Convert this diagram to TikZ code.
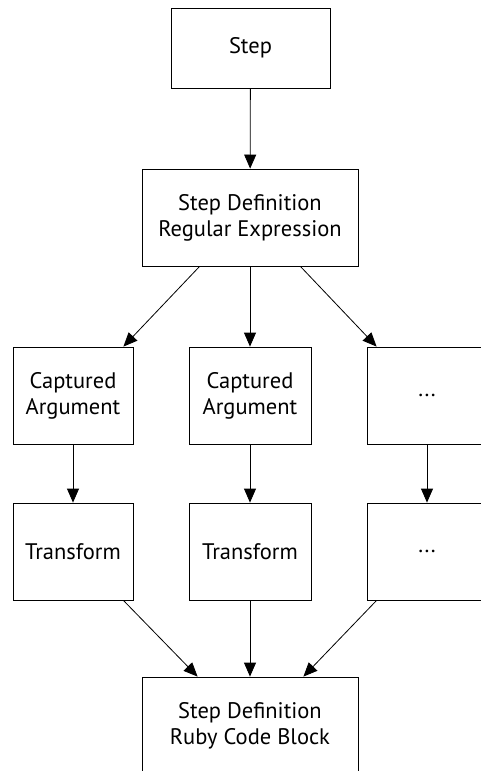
\documentclass[tikz,border=0pt]{standalone}
\usepackage{fontspec}
\setmainfont{PT Sans}
\usetikzlibrary{arrows.meta}
\tikzset{
  box/.style={draw=black, line width=0.8pt, align=center, inner sep=0pt,
    font=\fontsize{22.5}{26}\selectfont},
  flow/.style={draw=black, line width=0.8pt, -{Triangle[length=14pt,width=12pt]}}
}
\begin{document}
\begin{tikzpicture}[x=1pt,y=1pt,yscale=-1,xscale=1]
\useasboundingbox (0,0) rectangle (481,771);
\clip (0,0) rectangle (481,771);

%Shape: Rectangle [step]
\node [box, minimum width=159, minimum height=80] (step) at (250.5,48) {Step};
%Shape: Rectangle [regex]
\node [box, minimum width=216, minimum height=97] (regex) at (250,217.5) {Step Definition\\Regular Expression};

%Shape: Rectangle [captured arguments]
\node [box, minimum width=120, minimum height=97] (capA) at (73,395.5) {Captured\\Argument};
\node [box, minimum width=122, minimum height=97] (capB) at (250,395.5) {Captured\\Argument};
\node [box, minimum width=120, minimum height=97] (capC) at (427,395.5) {...};

%Shape: Rectangle [transforms]
\node [box, minimum width=120, minimum height=97] (trA) at (73,551.5) {Transform};
\node [box, minimum width=122, minimum height=97] (trB) at (250,551.5) {Transform};
\node [box, minimum width=120, minimum height=97] (trC) at (427,551.5) {...};

%Shape: Rectangle [code block]
\node [box, minimum width=216, minimum height=97] (code) at (250,725.5) {Step Definition\\Ruby Code Block};

%Straight Lines
\draw [flow] (step) -- (regex);
\draw [flow] ([xshift=58]regex.south west) -- ([xshift=-10]capA.north east);
\draw [flow] (regex) -- (capB);
\draw [flow] ([xshift=-58]regex.south east) -- ([xshift=10]capC.north west);

\draw [flow] (capA) -- (trA);
\draw [flow] (capB) -- (trB);
\draw [flow] (capC) -- (trC);

\draw [flow] ([xshift=-10]trA.south east) -- ([xshift=56]code.north west);
\draw [flow] (trB) -- (code);
\draw [flow] ([xshift=10]trC.south west) -- ([xshift=-55]code.north east);
\end{tikzpicture}
\end{document}
